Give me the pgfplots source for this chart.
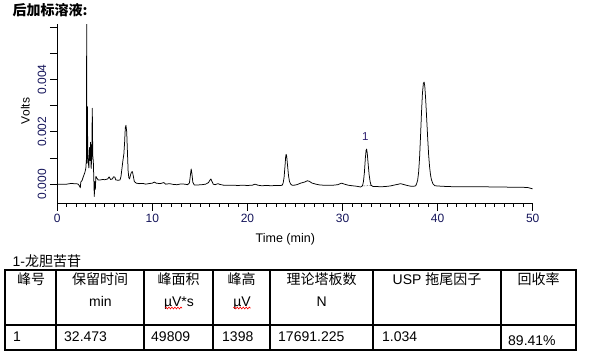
\documentclass[border=0pt]{standalone}
\usepackage{pgfplots}
\pgfplotsset{compat=1.18}
\usetikzlibrary{decorations.pathmorphing}
\usepackage{fontspec}
\setmainfont{Liberation Sans}
\newfontfamily\cjk{Noto Sans CJK SC}
\definecolor{ticknavy}{RGB}{20,20,90}
\definecolor{peaklab}{RGB}{45,30,110}
\begin{document}
\begin{tikzpicture}
\path[use as bounding box] (0,0) rectangle (591pt,-362pt);
\begin{axis}[
  at={(57.3pt,-203pt)}, anchor=south west,
  scale only axis, width=475.4pt, height=179pt,
  xmin=0, xmax=50, ymin=-0.00072, ymax=0.00612,
  axis x line*=bottom, axis y line*=left,
  axis line style={-, line width=0.8pt},
  tick align=outside,
  tick style={black, line width=0.8pt},
  major tick length=7.5pt, minor tick length=3.5pt,
  xtick={0,10,20,30,40,50}, xticklabels={0,10,20,30,40,50},
  minor x tick num=9,
  ytick={0,0.001,0.002,0.003,0.004,0.005,0.006},
  yticklabels={0.000,,0.002,,0.004,,},
  scaled y ticks=false,
  ticklabel style={font=\fontsize{12}{14}\selectfont, text=ticknavy},
  xticklabel style={anchor=north},
  yticklabel style={rotate=90, anchor=south},
  xlabel={Time (min)}, ylabel={Volts},
  xlabel style={at={(axis description cs:0.4796,-0.2039)}, anchor=center, font=\fontsize{12.5}{14}\selectfont},
  ylabel style={at={(axis description cs:-0.0673,0.514)}, anchor=center, font=\fontsize{12}{14}\selectfont},
]
\addplot[black, line width=0.75pt, mark=none, line join=round] coordinates {
(0,0.00000) (0.5,0.00000) (1.0,0.00000) (1.3,0.00002) (1.5,0.00003) (1.7,0.00002)
(2.0,0.00002) (2.2,0.00000) (2.35,-0.00008) (2.42,-0.00014) (2.47,0.00008) (2.6,0.00014)
(2.75,0.00030) (2.9,0.00045) (3.0,0.00060) (3.07,0.00100) (3.09,0.00650) (3.12,0.00080)
(3.17,0.00296) (3.2,0.00120) (3.26,0.00085) (3.32,0.00062) (3.38,0.00140) (3.44,0.00090)
(3.5,0.00160) (3.56,0.00060) (3.62,0.00100) (3.68,0.00290) (3.73,0.00110) (3.79,0.00086)
(3.84,0.00020) (3.89,-0.00047) (3.95,0.00010) (4.0,-0.00020) (4.06,0.00030) (4.14,0.00024)
(4.3,0.00016)
(4.5,0.00016) (4.8,0.00018) (5.0,0.00017) (5.3,0.00020) (5.45,0.00028) (5.6,0.00018)
(5.8,0.00020) (5.9,0.00028) (6.05,0.00027) (6.15,0.00016) (6.4,0.00015) (6.6,0.00016)
(6.7,0.00030) (6.8,0.00060) (6.9,0.00090) (7.0,0.00115) (7.08,0.00160) (7.15,0.00215)
(7.22,0.00225) (7.3,0.00200) (7.38,0.00120) (7.45,0.00050) (7.52,0.00025) (7.6,0.00020)
(7.7,0.00035) (7.8,0.00046) (7.9,0.00048) (8.0,0.00030) (8.1,0.00010) (8.3,0.00004)
(8.6,0.00002) (9.0,0.00003) (9.3,0.00000) (9.6,0.00002) (10.0,0.00004) (10.2,0.00008)
(10.4,0.00004) (10.8,0.00002) (11.2,0.00006) (11.4,0.00000) (11.8,0.00002) (12.2,-0.00001)
(12.6,-0.00002) (13.0,0.00001) (13.4,0.00000) (13.7,-0.00002) (13.9,0.00005) (14.0,0.00035)
(14.08,0.00058) (14.16,0.00040) (14.25,0.00008) (14.4,-0.00003) (14.8,-0.00003) (15.2,-0.00002)
(15.6,0.00000) (15.9,0.00006) (16.05,0.00015) (16.15,0.00020) (16.25,0.00012) (16.4,0.00000)
(16.6,-0.00002) (16.9,0.00002) (17.1,-0.00001) (17.5,-0.00004) (18.0,-0.00004) (18.5,-0.00004)
(19.0,-0.00005) (19.5,-0.00004) (20.0,-0.00005) (20.5,-0.00004) (20.8,0.00000) (21.1,-0.00004)
(21.5,-0.00006) (22.0,-0.00005) (22.5,-0.00006) (23.0,-0.00005) (23.5,-0.00005) (23.65,-0.00004)
(23.75,0.00004) (23.85,0.00025) (23.95,0.00070) (24.02,0.00105) (24.07,0.00114) (24.13,0.00105)
(24.22,0.00070) (24.32,0.00032) (24.42,0.00010) (24.55,0.00000) (24.7,-0.00004) (24.9,-0.00004)
(25.2,-0.00002) (25.6,0.00004) (26.0,0.00008) (26.3,0.00013) (26.5,0.00011) (26.8,0.00004)
(27.2,0.00000) (27.6,-0.00003) (28.0,-0.00004) (28.5,-0.00004) (29.0,-0.00004) (29.5,-0.00002)
(29.9,0.00004) (30.2,0.00000) (30.6,-0.00004) (31.0,-0.00006) (31.5,-0.00008) (31.9,-0.00011)
(32.1,-0.00006) (32.2,0.00010) (32.3,0.00045) (32.4,0.00100) (32.48,0.00130) (32.53,0.00134)
(32.6,0.00118) (32.7,0.00075) (32.8,0.00035) (32.9,0.00010) (33.0,-0.00004) (33.2,-0.00009)
(33.6,-0.00009) (34.0,-0.00010) (34.5,-0.00009) (35.0,-0.00007) (35.5,-0.00003) (35.9,0.00000)
(36.1,0.00002) (36.4,-0.00001) (36.8,-0.00005) (37.2,-0.00008) (37.5,-0.00008) (37.7,-0.00006)
(37.8,0.00003) (37.9,0.00015) (38.0,0.00045) (38.1,0.00100) (38.2,0.00180) (38.3,0.00270)
(38.4,0.00345) (38.5,0.00385) (38.58,0.00390) (38.65,0.00375) (38.75,0.00320) (38.85,0.00250)
(38.95,0.00180) (39.05,0.00115) (39.15,0.00068) (39.25,0.00036) (39.35,0.00017) (39.5,0.00002)
(39.7,-0.00006) (40.0,-0.00007) (41.0,-0.00009) (42.0,-0.00010) (43.0,-0.00010) (44.0,-0.00010)
(45.0,-0.00010) (46.0,-0.00011) (47.0,-0.00011) (48.0,-0.00012) (49.0,-0.00012) (49.5,-0.00013)
(50.0,-0.00018)
};
\addplot[black, densely dotted, line width=0.5pt, mark=none] coordinates {(32.15,-0.00007) (33.0,-0.00005)};
\node[text=peaklab, font=\fontsize{11.5}{13}\selectfont] at (axis cs:32.4,0.00182) {1};
\end{axis}
\begin{scope}[x=1pt,y=-1pt]
\node[anchor=base west, inner sep=0, font=\cjk\bfseries\fontsize{14}{16}\selectfont] at (12.5,15.5) {后加标溶液:};
\node[anchor=base west, inner sep=0, font=\fontsize{14}{16}\selectfont] at (12.5,266) {1-{\cjk 龙胆苦苷}};
\draw[line width=1.2pt] (5,270) rectangle (576,350);
\draw[line width=1.2pt] (5,325) -- (576,325);
\foreach \xx in {56,144,213,270,373,501} {\draw[line width=1.2pt] (\xx,270) -- (\xx,350);}
\begin{scope}[every node/.style={anchor=base, inner sep=0, font=\fontsize{14}{16}\selectfont}]
\node at (31,284.5) {\cjk 峰号};
\node at (100,284.5) {\cjk 保留时间};
\node at (178.5,284.5) {\cjk 峰面积};
\node at (241.5,284.5) {\cjk 峰高};
\node at (321.5,284.5) {\cjk 理论塔板数};
\node at (437,284.5) {USP {\cjk 拖尾因子}};
\node at (538.5,284.5) {\cjk 回收率};
\node at (100.5,306.5) {min};
\node at (179,306.5) {µV*s};
\node at (242,306.5) {µV};
\node at (321.7,306.5) {N};
\end{scope}
\draw[red, line width=0.6pt, decorate, decoration={snake, amplitude=0.9pt, segment length=3pt}] (165,308) -- (182,308);
\draw[red, line width=0.6pt, decorate, decoration={snake, amplitude=0.9pt, segment length=3pt}] (233.3,308) -- (250.7,308);
\begin{scope}[every node/.style={anchor=base west, inner sep=0, font=\fontsize{14}{16}\selectfont}]
\node at (13,341.7) {1};
\node at (64,341.7) {32.473};
\node at (151,341.7) {49809};
\node at (222,341.7) {1398};
\node at (278,341.7) {17691.225};
\node at (382,341.7) {1.034};
\node at (508,345) {89.41\%};
\end{scope}
\end{scope}
\end{tikzpicture}
\end{document}
